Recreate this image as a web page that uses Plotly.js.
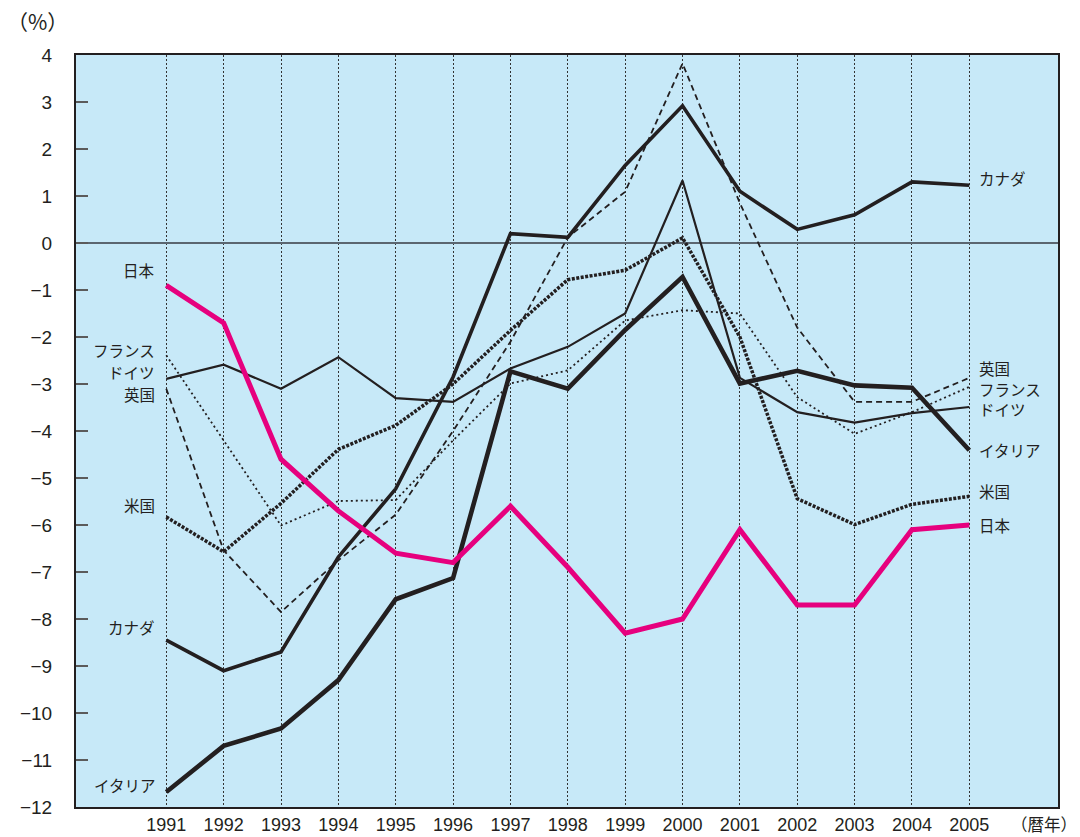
<!DOCTYPE html>
<html>
<head>
<meta charset="utf-8">
<script src="https://cdn.plot.ly/plotly-3.0.1.min.js"></script>
<style>html,body{margin:0;padding:0;background:#fff;}#chart{width:1080px;height:837px;}</style>
</head>
<body>
<div id="chart"></div>
<script>
const years = [1991,1992,1993,1994,1995,1996,1997,1998,1999,2000,2001,2002,2003,2004,2005];
const japan   = [-0.9,-1.7,-4.6,-5.7,-6.6,-6.8,-5.6,-6.9,-8.3,-8.0,-6.1,-7.7,-7.7,-6.1,-6.0];
const canada  = [-8.45,-9.1,-8.7,-6.68,-5.23,-2.85,0.2,0.12,1.65,2.92,1.1,0.29,0.6,1.3,1.23];
const italy   = [-11.68,-10.7,-10.33,-9.3,-7.58,-7.13,-2.73,-3.1,-1.85,-0.72,-2.99,-2.72,-3.03,-3.08,-4.41];
const germany = [-2.89,-2.59,-3.1,-2.43,-3.3,-3.38,-2.67,-2.21,-1.5,1.33,-2.87,-3.6,-3.82,-3.62,-3.49];
const uk      = [-3.1,-6.54,-7.85,-6.75,-5.78,-4.0,-2.1,0.12,1.09,3.82,0.85,-1.8,-3.38,-3.38,-2.87];
const france  = [-2.39,-4.2,-6.01,-5.49,-5.47,-4.2,-2.99,-2.71,-1.65,-1.43,-1.5,-3.28,-4.06,-3.6,-3.06];
const usa     = [-5.83,-6.57,-5.54,-4.39,-3.88,-3.0,-1.86,-0.78,-0.58,0.11,-2.0,-5.44,-5.99,-5.56,-5.39];
const yTicks  = [4,3,2,1,0,-1,-2,-3,-4,-5,-6,-7,-8,-9,-10,-11,-12];

const INK = '#231f20';
const traces = [
  {y: france, line:{color:INK, width:1.8, dash:'2px,3px'}},
  {y: uk, line:{color:INK, width:1.8, dash:'6px,4px'}},
  {y: germany, line:{color:INK, width:2.2}},
  {y: usa, line:{color:INK, width:3.5, dash:'3px,1.5px'}},
  {y: canada, line:{color:INK, width:3.6}},
  {y: italy, line:{color:INK, width:4.6}},
  {y: japan, line:{color:'#e6007e', width:5}}
].map(t => Object.assign({x: years, type:'scatter', mode:'lines', hoverinfo:'skip', showlegend:false}, t));

const lf = {family:'Noto Sans CJK JP, sans-serif', size:15.5, color:INK};
function lab(text, x, y, side){
  return {text:text, x:x, y:y, xref:'x', yref:'y', showarrow:false, font:lf, borderpad:0,
          xanchor: side==='l' ? 'right' : 'left', xshift: side==='l' ? -10 : 9, yanchor:'middle'};
}
const annotations = [
  lab('日本',1991,-0.58,'l'),
  lab('フランス',1991,-2.28,'l'),
  lab('ドイツ',1991,-2.75,'l'),
  lab('英国',1991,-3.22,'l'),
  lab('米国',1991,-5.58,'l'),
  lab('カナダ',1991,-8.16,'l'),
  lab('イタリア',1991,-11.54,'l'),
  lab('カナダ',2005,1.38,'r'),
  lab('英国',2005,-2.66,'r'),
  lab('フランス',2005,-3.10,'r'),
  lab('ドイツ',2005,-3.54,'r'),
  lab('イタリア',2005,-4.41,'r'),
  lab('米国',2005,-5.28,'r'),
  lab('日本',2005,-5.99,'r'),
  {text:'（%）', xref:'paper', yref:'paper', x:-0.039, y:1.045, showarrow:false, borderpad:0,
   font:{family:'Noto Sans CJK JP, sans-serif', size:21, color:INK}, xanchor:'center', yanchor:'middle'},
  {text:'（暦年）', xref:'paper', yref:'paper', x:1.0204, y:-0.022, showarrow:false, borderpad:0,
   font:{family:'Noto Sans CJK JP, sans-serif', size:16.5, color:INK}, xanchor:'right', yanchor:'middle'}
];

const layout = {
  width:1080, height:837,
  margin:{l:76, r:22, t:55, b:30, pad:0},
  paper_bgcolor:'#ffffff', plot_bgcolor:'#c7e9f8',
  font:{family:'Liberation Sans, Arial, sans-serif', size:19, color:INK},
  xaxis:{range:[1989.426, 2006.546], tickmode:'array', tickvals:years, ticktext:years.map(String),
         showgrid:true, gridcolor:'#333333', gridwidth:1, griddash:'2px,2px',
         zeroline:false, showline:true, linecolor:INK, linewidth:2, mirror:true,
         ticks:'', ticklabelstandoff:0, tickfont:{size:18}},
  yaxis:{range:[-12, 4], tickmode:'array', tickvals:yTicks, ticktext:yTicks.map(v => v<0 ? '\u2212'+Math.abs(v) : String(v)),
         showgrid:false, zeroline:true, zerolinecolor:'#5b6670', zerolinewidth:2,
         showline:true, linecolor:INK, linewidth:2, mirror:true,
         ticks:'inside', ticklen:12, tickwidth:2, tickcolor:'#5b5b5b', ticklabelstandoff:18, tickfont:{size:19}},
  annotations: annotations
};

Plotly.newPlot('chart', traces, layout, {displayModeBar:false, staticPlot:true});
</script>
</body>
</html>
